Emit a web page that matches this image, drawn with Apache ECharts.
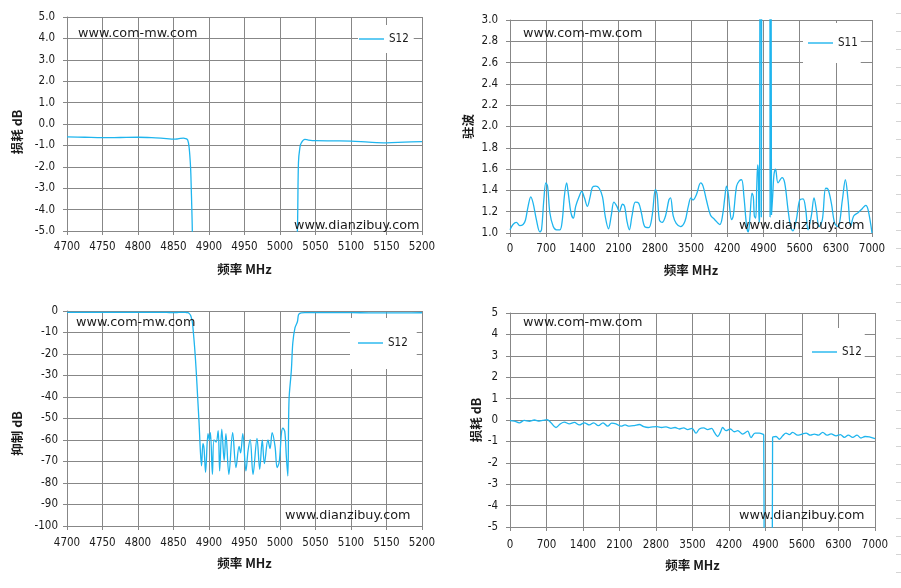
<!DOCTYPE html>
<html><head><meta charset="utf-8">
<script src="https://cdn.jsdelivr.net/npm/echarts@6/dist/echarts.min.js"></script>
<style>html,body{margin:0;padding:0;background:#fff}#c{width:901px;height:588px}</style>
</head><body><div id="c"></div>
<script>
// ---- Narrow-band S12 (used by the 4700-5200 MHz insertion loss and rejection plots)
const nbFreq = [4700,4725,4750,4775,4800,4825,4840,4850,4855,4860,
  4864,4867,4870,4872,4874,4875,4876.5,4878,4880,4882,
  4884,4886,4888,4889.5,4891.4,4893,4895.2,4898.6,4900.5,4902,
  4904.8,4907,4910,4912.9,4915,4918,4921.4,4923.8,4928,4933.3,
  4938,4942.4,4944.5,4947.6,4952,4955,4958,4962,4967.6,4971.4,
  4975,4978,4983,4986,4989,4993,4996,4999,5002,5004,
  5006.7,5009,5011,5012.7,5016,5018,5021,5024.5,5026,5028,
  5030,5035,5040,5050,5075,5100,5125,5150,5175,5200];
const nbS12 = [-0.60,-0.62,-0.64,-0.63,-0.62,-0.65,-0.68,-0.71,-0.70,-0.67,
  -0.66,-0.68,-0.75,-1.1,-2.0,-3.0,-5.0,-10,-18,-28,
  -40,-52,-66,-72,-61.7,-64,-75,-57,-60,-56.6,
  -76,-60,-61,-55.6,-74.4,-55,-69.6,-57,-76,-56.6,
  -72.8,-63,-66,-57,-74.4,-65,-59.8,-76,-59.3,-73.6,
  -60,-71,-60,-64,-56.6,-63,-72.8,-70,-57,-54.5,
  -56,-68,-76.7,-41.5,-27.5,-15,-8,-5,-1.8,-1.1,
  -0.88,-0.72,-0.75,-0.78,-0.79,-0.80,-0.85,-0.88,-0.85,-0.82];

// ---- Wide-band S11 VSWR (0-7000 MHz)
const s11Freq = [0,58,123,188,253,298,350,402,447,512,577,609,654,693,726,771,836,900,966,1011,
  1050,1095,1128,1179,1225,1270,1335,1387,1439,1497,1549,1594,1659,1724,1789,1840,1905,1957,2009,2067,
  2112,2177,2216,2262,2307,2359,2424,2488,2540,2605,2683,2748,2812,2845,2890,2942,3007,3072,3104,3156,
  3214,3298,3383,3447,3499,3539,3604,3688,3733,3798,3876,3960,4057,4109,4155,4187,4219,4252,4284,4317,
  4381,4433,4479,4524,4576,4608,4641,4680,4705,4725,4751,4770,4790,4803,4816,4826,4832,4856,4861,4866,
  5025,5029,5034,5050,5056,5080,5105,5135,5183,5260,5312,5376,5430,5473,5537,5602,5666,5718,5763,5827,
  5879,5924,5976,6040,6104,6150,6214,6279,6343,6427,6485,6537,6588,6646,6730,6814,6878,6924,7000];
const s11Vswr = [1.03,1.08,1.10,1.07,1.08,1.12,1.25,1.34,1.28,1.12,1.01,1.03,1.31,1.47,1.44,1.19,1.06,1.03,1.03,1.12,
  1.34,1.47,1.37,1.19,1.14,1.25,1.34,1.39,1.33,1.25,1.34,1.43,1.44,1.42,1.34,1.16,1.04,1.16,1.29,1.25,
  1.20,1.27,1.25,1.11,1.03,1.16,1.29,1.28,1.19,1.06,1.05,1.16,1.41,1.36,1.12,1.10,1.16,1.31,1.33,1.16,
  1.09,1.06,1.11,1.25,1.33,1.31,1.36,1.47,1.44,1.31,1.17,1.125,1.08,1.16,1.34,1.44,1.375,1.22,1.125,1.16,
  1.44,1.49,1.50,1.34,1.06,1.01,1.16,1.375,1.34,1.16,1.14,1.41,1.64,1.56,1.10,1.14,3.2,3.2,1.15,3.2,
  3.2,1.15,3.2,3.2,1.17,1.35,1.55,1.60,1.47,1.52,1.47,1.22,1.05,1.02,1.125,1.31,1.32,1.22,1.03,1.16,
  1.33,1.22,1.06,1.125,1.42,1.41,1.28,1.09,1.06,1.31,1.50,1.31,1.06,1.16,1.19,1.23,1.26,1.22,1.00];

// ---- Wide-band S12 insertion loss (0-7000 MHz)
const wbFreq = [0,83,179,275,371,467,563,627,710,786,882,965,1042,1138,1234,1330,1426,1522,1605,1694,
  1784,1873,1950,2033,2129,2206,2289,2385,2480,2564,2653,2736,2819,2909,2992,3088,3165,3248,3331,3408,
  3490,3567,3631,3714,3791,3868,3919,3983,4034,4079,4143,4226,4303,4367,4462,4558,4622,4699,4782,4846,
  4866,4874,4900,5000,5028,5036,5102,5166,5230,5293,5357,5421,5517,5600,5677,5760,5837,5913,5997,6080,
  6157,6253,6336,6412,6489,6572,6655,6732,6809,6892,7000];
const wbS12 = [-0.03,-0.05,-0.13,-0.02,-0.06,0,-0.05,-0.02,0.02,-0.13,-0.35,-0.18,-0.10,-0.18,-0.11,-0.23,-0.13,-0.23,-0.13,-0.26,
  -0.13,-0.29,-0.15,-0.18,-0.29,-0.23,-0.29,-0.26,-0.21,-0.31,-0.35,-0.32,-0.31,-0.35,-0.32,-0.39,-0.35,-0.42,-0.37,-0.45,
  -0.39,-0.61,-0.42,-0.37,-0.45,-0.39,-0.58,-0.77,-0.58,-0.35,-0.50,-0.42,-0.55,-0.50,-0.66,-0.52,-0.82,-0.61,-0.61,-0.66,
  -0.70,-8,-65,-65,-8,-0.82,-0.77,-0.90,-0.74,-0.61,-0.68,-0.58,-0.71,-0.66,-0.61,-0.71,-0.66,-0.71,-0.58,-0.71,
  -0.65,-0.74,-0.68,-0.81,-0.71,-0.81,-0.71,-0.84,-0.77,-0.79,-0.87];

// ---- Texts
const xName = '频率 MHz';
const yNames = ['损耗 dB', '驻波', '抑制 dB', '损耗 dB'];
const legendNames = ['S12', 'S11', 'S12', 'S12'];
const wmTop = 'www.com-mw.com';
const wmBottom = 'www.dianzibuy.com';

const zip = (a, b) => a.map((v, i) => [v, b[i]]);

const LBL = '"DejaVu Sans Condensed","Liberation Sans",sans-serif';
const CJK = '"Noto Sans CJK SC",sans-serif';
const GC = '#878787';
const LC = '#1FB5EE';
const TC = '#1a1a1a';

const grids = [
  {left: 67, top: 17, width: 355, height: 214},
  {left: 510, top: 20, width: 362, height: 213},
  {left: 67, top: 311, width: 355, height: 215},
  {left: 510, top: 313, width: 365, height: 214}
];
const xCfg = [
  {min: 4700, max: 5200, interval: 50, margin: 10, gap: 32},
  {min: 0, max: 7000, interval: 700, margin: 10.5, gap: 31},
  {min: 4700, max: 5200, interval: 50, margin: 11.5, gap: 31},
  {min: 0, max: 7000, interval: 700, margin: 12, gap: 32}
];
const yCfg = [
  {min: -5, max: 5, interval: 1, dec: 1, margin: 12, gap: 43, pad: [0, 16, 0, 0]},
  {min: 1, max: 3, interval: 0.2, dec: 1, margin: 12, gap: 35, pad: [0, 0, 0, 0]},
  {min: -100, max: 0, interval: 10, dec: 0, margin: 9, gap: 43, pad: [0, 30, 0, 0]},
  {min: -5, max: 5, interval: 1, dec: 0, margin: 12, gap: 27, pad: [0, 0, 0, 0]}
];

const xAxes = xCfg.map((c, i) => ({
  type: 'value', gridIndex: i, min: c.min, max: c.max, interval: c.interval,
  name: xName, nameLocation: 'middle', nameGap: c.gap,
  nameTextStyle: {fontFamily: CJK, fontSize: 12.5, fontWeight: 'bold', color: TC},
  axisLine: {onZero: false, lineStyle: {color: GC, width: 1}},
  axisTick: {show: true, inside: false, length: 4, lineStyle: {color: GC}},
  axisLabel: {fontFamily: LBL, fontSize: 11.5, color: TC, margin: c.margin,
    showMinLabel: true, showMaxLabel: true, formatter: v => String(Math.round(v))},
  splitLine: {show: true, lineStyle: {color: GC, width: 1}}
}));
const yAxes = yCfg.map((c, i) => ({
  type: 'value', gridIndex: i, min: c.min, max: c.max, interval: c.interval,
  name: yNames[i], nameLocation: 'middle', nameGap: c.gap,
  nameTextStyle: {fontFamily: CJK, fontSize: 12.5, fontWeight: 'bold', color: TC, padding: c.pad},
  axisLine: {show: true, onZero: false, lineStyle: {color: GC, width: 1}},
  axisTick: {show: true, inside: false, length: 4, lineStyle: {color: GC}},
  axisLabel: {fontFamily: LBL, fontSize: 11.5, color: TC, margin: c.margin,
    formatter: v => Number(v).toFixed(c.dec)},
  splitLine: {show: true, lineStyle: {color: GC, width: 1}}
}));

const seriesData = [zip(nbFreq, nbS12), zip(s11Freq, s11Vswr), zip(nbFreq, nbS12), zip(wbFreq, wbS12)];
const series = seriesData.map((d, i) => ({
  type: 'line', name: legendNames[i], xAxisIndex: i, yAxisIndex: i, data: d,
  symbol: 'none', showSymbol: false, smooth: 0.35, clip: true,
  lineStyle: {color: LC, width: 1.3}, itemStyle: {color: LC}, z: 3
}));

const legendPos = [
  {left: 358, top: 25, padding: [8, 5, 8, 1]},
  {left: 803, top: 23, padding: [14, 3, 14, 5]},
  {left: 350, top: 318, padding: [19, 9, 20, 8]},
  {left: 803, top: 328, padding: [18, 3, 19, 9]}
];
const legends = legendPos.map((p, i) => ({
  left: p.left, top: p.top, padding: p.padding, orient: 'horizontal',
  backgroundColor: '#fff', itemWidth: 25, itemHeight: 1.4, icon: 'rect',
  itemStyle: {color: LC, borderWidth: 0},
  data: [{name: legendNames[i]}], selectedMode: false,
  textStyle: {fontFamily: LBL, fontSize: 11.5, color: TC, lineHeight: 12}, z: 5
}));

const wmPos = [
  [78, 27.5, 294, 219.5],
  [523, 27.5, 739, 219.5],
  [76, 316.5, 285, 509.5],
  [523, 316.5, 739, 509.5]
];
const graphics = [];
wmPos.forEach(p => {
  graphics.push({type: 'text', left: p[0], top: p[1], z: 20,
    style: {text: wmTop, font: '12.8px "DejaVu Sans"', fill: TC}});
  graphics.push({type: 'text', left: p[2], top: p[3], z: 20,
    style: {text: wmBottom, font: '12.8px "DejaVu Sans"', fill: TC}});
});
for (let k = 0; k < 32; k++) {
  const y = Math.round(13.3 + 18.02 * k) + 0.5;
  graphics.push({type: 'line', z: 1, shape: {x1: 896, y1: y, x2: 901, y2: y},
    style: {stroke: '#d4d4d4', lineWidth: 1}});
}

const chart = echarts.init(document.getElementById('c'));
chart.setOption({
  animation: false,
  backgroundColor: '#fff',
  grid: grids,
  xAxis: xAxes,
  yAxis: yAxes,
  legend: legends,
  series: series,
  graphic: graphics
});
</script></body></html>
